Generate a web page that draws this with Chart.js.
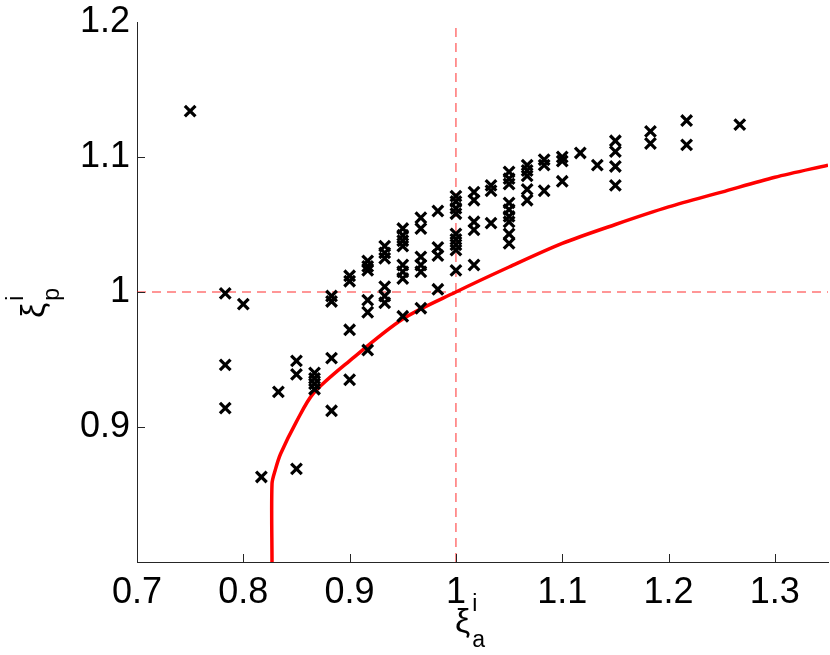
<!DOCTYPE html>
<html>
<head>
<meta charset="utf-8">
<script src="https://cdn.jsdelivr.net/npm/chart.js@4/dist/chart.umd.min.js"></script>
<style>
  html, body { margin: 0; padding: 0; background: #fff; }
  #wrap { width: 830px; height: 655px; }
</style>
</head>
<body>
<div id="wrap"><canvas id="chart" width="830" height="655"></canvas></div>
<script>
const xTicks = [0.7, 0.8, 0.9, 1, 1.1, 1.2, 1.3];
const yTicks = [0.9, 1, 1.1, 1.2];

// measured points, grouped by x column
const columnX = [0.75, 0.783, 0.8, 0.817, 0.833, 0.85, 0.867, 0.883, 0.9, 0.917, 0.933, 0.95,
  0.967, 0.983, 1.0, 1.017, 1.033, 1.05, 1.067, 1.083, 1.1, 1.117, 1.133, 1.15, 1.183, 1.217, 1.267];
const columnY = [
  [1.134],
  [0.999, 0.946, 0.914],
  [0.991],
  [0.863],
  [0.926],
  [0.949, 0.939, 0.869],
  [0.940, 0.936, 0.932, 0.928],
  [0.997, 0.993, 0.951, 0.912],
  [1.012, 1.008, 0.972, 0.935],
  [1.023, 1.019, 1.016, 0.994, 0.985, 0.957],
  [1.034, 1.029, 1.025, 1.004, 0.997, 0.992],
  [1.047, 1.042, 1.038, 1.034, 1.020, 1.015, 1.010, 0.982],
  [1.055, 1.047, 1.026, 1.020, 1.015, 0.988],
  [1.060, 1.033, 1.027, 1.002],
  [1.071, 1.067, 1.062, 1.058, 1.043, 1.039, 1.035, 1.031, 1.016],
  [1.074, 1.068, 1.052, 1.046, 1.020],
  [1.079, 1.075, 1.051],
  [1.089, 1.084, 1.080, 1.066, 1.061, 1.056, 1.052, 1.043, 1.036],
  [1.094, 1.090, 1.086, 1.076, 1.068],
  [1.098, 1.094, 1.075],
  [1.100, 1.097, 1.082],
  [1.103],
  [1.094],
  [1.112, 1.104, 1.093, 1.079],
  [1.119, 1.110],
  [1.127, 1.109],
  [1.124]
];

// bound curve (red)
const curveX = [0.827, 0.827, 0.830, 0.835, 0.850, 0.866, 0.900, 0.950, 1.000,
  1.050, 1.100, 1.150, 1.200, 1.250, 1.300, 1.350];
const curveY = [0.800, 0.858, 0.868, 0.880, 0.904, 0.925, 0.949, 0.980, 1.000,
  1.0185, 1.036, 1.050, 1.063, 1.074, 1.085, 1.094];

const refX = 1;
const refY = 1;

const FONT = '"Liberation Sans", Arial, Helvetica, sans-serif';

const points = [];
columnX.forEach((x, i) => columnY[i].forEach((y) => points.push({ x, y })));

// ξ with superscript and subscript, drawn from its left edge
function drawSymbol(ctx, left, base, sup, sub) {
  ctx.font = `34px ${FONT}`;
  const wXi = ctx.measureText("ξ").width;
  ctx.fillText("ξ", left, base);
  ctx.font = `23px ${FONT}`;
  ctx.fillText(sup, left + wXi + 2, base - 21);
  ctx.fillText(sub, left + wXi + 2, base + 15);
}

// no extra label padding: the plot box is placed by layout.padding alone
function noPad(s) {
  s.paddingTop = 0;
  s.paddingBottom = 0;
  s.paddingLeft = 0;
  s.paddingRight = 0;
}

const decor = {
  id: "decor",
  afterDatasetsDraw(chart) {
    const { ctx, chartArea, scales } = chart;
    ctx.save();
    ctx.strokeStyle = "#262626";
    ctx.lineWidth = 1;
    ctx.beginPath();
    xTicks.slice(1).forEach((v) => {
      const px = Math.round(scales.x.getPixelForValue(v)) + 0.5;
      ctx.moveTo(px, chartArea.bottom);
      ctx.lineTo(px, chartArea.bottom - 8);
    });
    yTicks.slice(0, 3).forEach((v) => {
      const py = Math.round(scales.y.getPixelForValue(v)) + 0.5;
      ctx.moveTo(chartArea.left, py);
      ctx.lineTo(chartArea.left + 8, py);
    });
    ctx.stroke();
    ctx.restore();
  },
  afterDraw(chart) {
    const { ctx } = chart;
    ctx.save();
    ctx.fillStyle = "#000";
    ctx.textBaseline = "alphabetic";
    ctx.textAlign = "left";
    drawSymbol(ctx, 455, 632, "i", "a");
    ctx.translate(44, 318);
    ctx.rotate(-Math.PI / 2);
    drawSymbol(ctx, 0, 0, "i", "p");
    ctx.restore();
  }
};

new Chart(document.getElementById("chart"), {
  type: "scatter",
  data: {
    datasets: [
      {
        data: points,
        pointStyle: "crossRot",
        radius: 7.5,
        borderWidth: 3.2,
        borderColor: "#000",
        backgroundColor: "#000",
        order: 0
      },
      {
        type: "line",
        data: curveX.map((x, i) => ({ x, y: curveY[i] })),
        borderColor: "#ff0000",
        borderWidth: 3.5,
        pointRadius: 0,
        tension: 0.3,
        fill: false,
        order: 1
      },
      {
        type: "line",
        data: [{ x: 0.7, y: refY }, { x: 1.35, y: refY }],
        borderColor: "rgba(255,0,0,0.55)",
        borderWidth: 1.5,
        borderDash: [9, 6],
        pointRadius: 0,
        order: 2
      },
      {
        type: "line",
        data: [{ x: refX, y: 0.8 }, { x: refX, y: 1.2 }],
        borderColor: "rgba(255,0,0,0.55)",
        borderWidth: 1.5,
        borderDash: [9, 6],
        pointRadius: 0,
        order: 2
      }
    ]
  },
  options: {
    responsive: false,
    animation: false,
    devicePixelRatio: 1,
    layout: { autoPadding: false, padding: { left: 0, right: 2, top: 22, bottom: 0 } },
    plugins: { legend: { display: false }, tooltip: { enabled: false } },
    scales: {
      x: {
        type: "linear",
        min: 0.7,
        max: 1.35,
        afterBuildTicks: (s) => { s.ticks = xTicks.map((v) => ({ value: v })); },
        afterFit: (s) => { s.height = 93; noPad(s); },
        grid: { display: true, drawOnChartArea: false, drawTicks: false },
        border: { color: "#262626", width: 1 },
        ticks: {
          padding: 9,
          color: "#000",
          font: { family: FONT, size: 36 },
          maxRotation: 0,
          callback: (v) => String(Math.round(v * 10) / 10)
        }
      },
      y: {
        type: "linear",
        min: 0.8,
        max: 1.2,
        afterBuildTicks: (s) => { s.ticks = yTicks.map((v) => ({ value: v })); },
        afterFit: (s) => { s.width = 137; noPad(s); },
        grid: { display: true, drawOnChartArea: false, drawTicks: false },
        border: { color: "#262626", width: 1 },
        ticks: {
          padding: 7,
          color: "#000",
          font: { family: FONT, size: 36 },
          callback: (v) => String(Math.round(v * 10) / 10)
        }
      }
    }
  },
  plugins: [decor]
});
</script>
</body>
</html>
